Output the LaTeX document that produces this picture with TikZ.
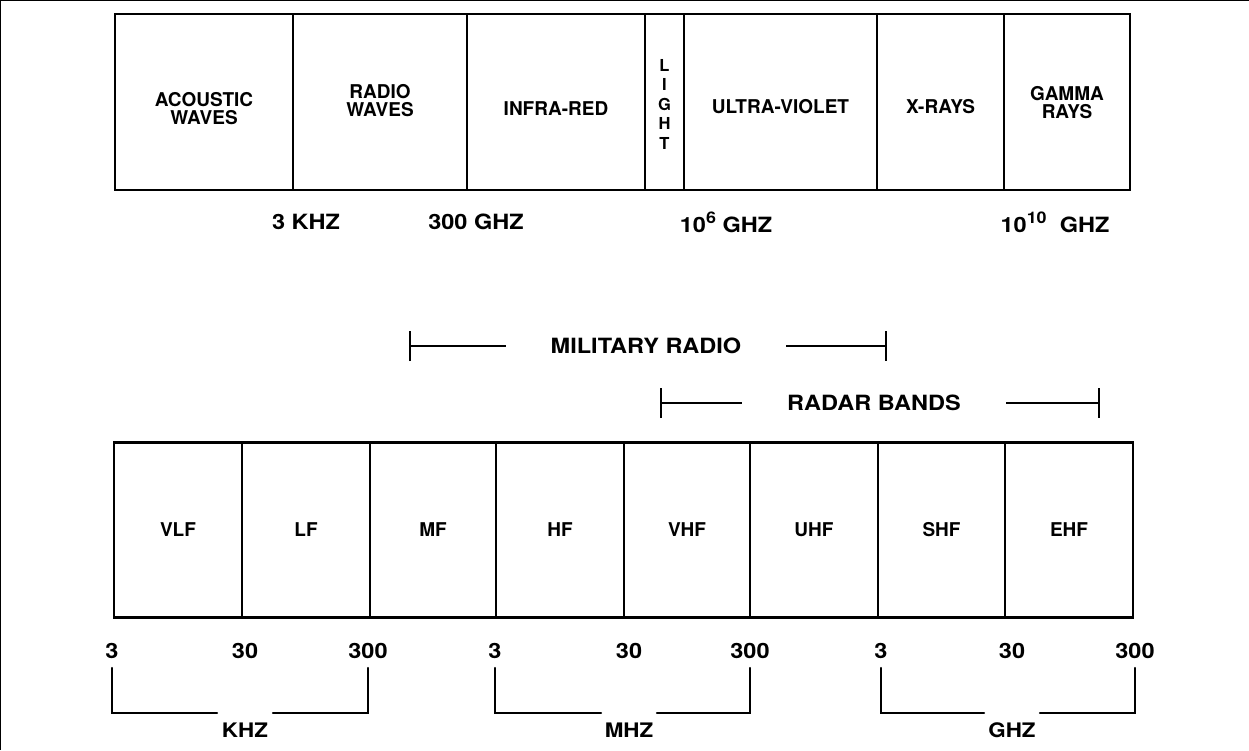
\documentclass[tikz,border=0pt]{standalone}
\usepackage{fontspec}
\setmainfont{TeX Gyre Heros}
\newfontfamily\wideface[FakeStretch=1.12]{TeX Gyre Heros}
\usetikzlibrary{arrows.meta}

\begin{document}
\begin{tikzpicture}[x=1pt,y=-1pt,
    band/.style={draw=lineColour, line width=2.6pt, inner sep=0pt, anchor=center},
    lab/.style={font=\bfseries\fontsize{19}{18}\selectfont, align=center, inner sep=1pt},
    freq/.style={font=\wideface\bfseries\fontsize{21}{21}\selectfont, inner sep=1pt},
    spanlab/.style={font=\wideface\bfseries\fontsize{21}{21}\selectfont, inner sep=1pt},
    spanline/.style={line width=1.8pt, {Bar[width=30pt,line width=1.8pt]}-, shorten >=44pt},
    unitbracket/.style={line width=2.4pt, line cap=round}]
    % Define colours
    \definecolor{lineColour}{HTML}{000000}

    % Macros for the vertical centres of the two bands
    \def\topY{102} % centre of the spectrum band
    \def\lowY{530} % centre of the radio band

    \useasboundingbox (0,0) rectangle (1249,750);

  % Frame along the top and left edge
  \draw[line width=1pt] (0.5,750) -- (0.5,0.5) -- (1249,0.5);

  % Draw the spectrum band, left edge / right edge / name
  \foreach \l/\r/\nm in {115/293/acoustic, 293/467/radio, 467/645/infrared, 645/684/light,
                         684/877/ultraviolet, 877/1004/xrays, 1004/1130/gamma}
    \node[band, minimum width={(\r-\l)*1pt}, minimum height=176pt] (\nm) at ({(\l+\r)/2},\topY) {};

  % Label the spectrum band
  \path (acoustic.center) ++(0,7) node[lab] {ACOUSTIC\\WAVES};
  \path (radio.center) ++(0,-1) node[lab] {RADIO\\WAVES};
  \path (infrared.center) ++(0,7) node[lab] {INFRA-RED};
  \path (light.center) ++(0,2) node[lab, font=\bfseries\fontsize{16.5}{19.5}\selectfont] {L\\I\\G\\H\\T};
  \path (ultraviolet.center) ++(0,5) node[lab] {ULTRA-VIOLET};
  \path (xrays.center) ++(0,5) node[lab] {X-RAYS};
  \path (gamma.center) ++(0,1) node[lab] {GAMMA\\RAYS};

  % Frequencies under the spectrum band
  \node[freq] (f3k) at (306,222) {3 KHZ};
  \node[freq] (f300g) at (476,222) {300 GHZ};
  \node[freq] (fsix) at (726,222) {10\raisebox{9pt}{\fontsize{16}{16}\selectfont 6} GHZ};
  \node[freq] (ften) at (1055,222) {10\raisebox{9pt}{\fontsize{16}{16}\selectfont 10}\ \ GHZ};

  % Military radio span
  \node[spanlab] (milradio) at (646,346) {MILITARY RADIO};
  \coordinate (milL) at (409,346);
  \coordinate (milR) at (887,346);
  \draw[spanline] (milL) -- (milradio);
  \draw[spanline] (milR) -- (milradio);

  % Radar bands span
  \node[spanlab] (radar) at (874,403) {RADAR BANDS};
  \coordinate (radL) at (660,403);
  \coordinate (radR) at (1100,403);
  \draw[spanline] (radL) -- (radar);
  \draw[spanline] (radR) -- (radar);

  % Draw the radio band
  \foreach \l/\r/\nm/\txt in {114/242/vlf/VLF, 242/370/lf/LF, 370/496/mf/MF, 496/624/hf/HF,
                              624/750/vhf/VHF, 750/878/uhf/UHF, 878/1005/shf/SHF, 1005/1133/ehf/EHF}
    \node[band, lab, minimum width={(\r-\l)*1pt}, minimum height=175pt] (\nm) at ({(\l+\r)/2},\lowY) {\txt};

  % Band edges and unit brackets, left / middle / right / unit
  \foreach \L/\M/\R/\unit in {112/245/368/KHZ, 495/629/750/MHZ, 881/1012/1135/GHZ} {
    \node[freq] (\unit-lo) at (\L,651) {3};
    \node[freq] (\unit-mid) at (\M,651) {30};
    \node[freq] (\unit-hi) at (\R,651) {300};
    \node[freq, font=\wideface\bfseries\fontsize{20}{20}\selectfont] (\unit) at (\M,730) {\unit};
    \coordinate (\unit-a) at (\L,668);
    \coordinate (\unit-b) at ({\M-28},713);
    \coordinate (\unit-c) at ({\M+28},713);
    \coordinate (\unit-d) at (\R,668);
    \draw[unitbracket] (\unit-a) |- (\unit-b);
    \draw[unitbracket] (\unit-c) -| (\unit-d);
  }

\end{tikzpicture}
\end{document}
